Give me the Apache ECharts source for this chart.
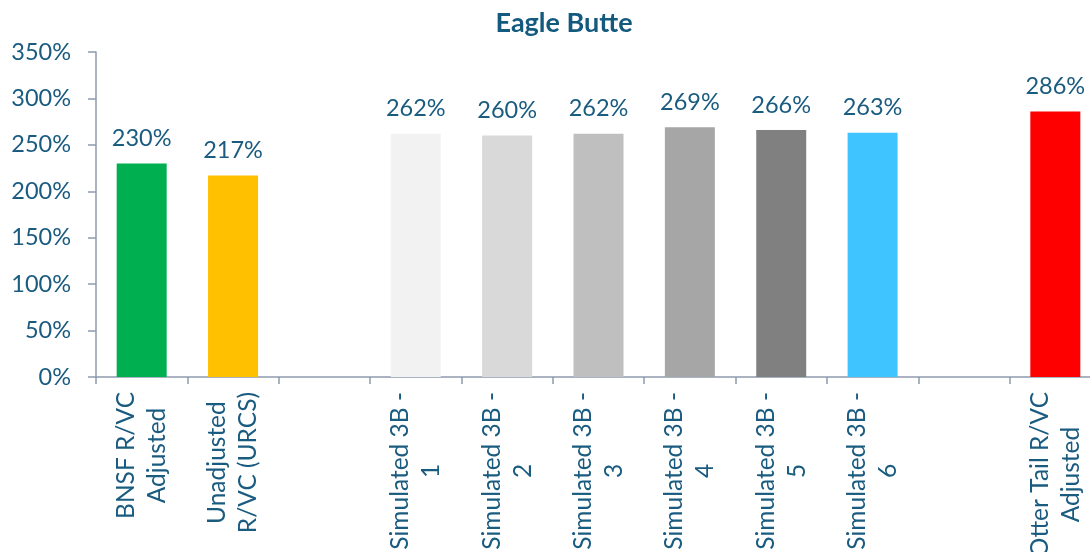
<!DOCTYPE html>
<html>
<head>
<meta charset="utf-8">
<script src="https://cdn.jsdelivr.net/npm/echarts@6/dist/echarts.min.js"></script>
<style>
html,body{margin:0;padding:0;background:#fff;}
#chart{width:1090px;height:552px;}
</style>
</head>
<body>
<div id="chart"></div>
<script>
var titleText = 'Eagle Butte';
var categories = [
  'BNSF R/VC\nAdjusted',
  'Unadjusted\nR/VC (URCS)',
  '',
  'Simulated 3B -\n1',
  'Simulated 3B -\n2',
  'Simulated 3B -\n3',
  'Simulated 3B -\n4',
  'Simulated 3B -\n5',
  'Simulated 3B -\n6',
  '',
  'Otter Tail R/VC\nAdjusted'
];
var values = [230, 217, null, 262, 260, 262, 269, 266, 263, null, 286];
var barColors = ['#00B050', '#FFC000', '#FFFFFF', '#F2F2F2', '#D9D9D9', '#BFBFBF', '#A6A6A6', '#808080', '#40C4FF', '#FFFFFF', '#FF0000'];
var yTicks = { min: 0, max: 350, interval: 50 };

var textColor = '#1A5B80';
var axisColor = '#8E9BAD';
var fontFamily = 'Lato';

var chart = echarts.init(document.getElementById('chart'), null, { renderer: 'canvas' });
chart.setOption({
  animation: false,
  title: {
    text: titleText,
    left: 559,
    textAlign: 'center',
    top: 5,
    textStyle: { color: '#135A7E', fontFamily: fontFamily, fontWeight: 'bold', fontSize: 27 }
  },
  grid: { left: 96, top: 52, height: 325, width: 1005, outerBoundsMode: 'none', containLabel: false },
  xAxis: {
    type: 'category',
    data: categories,
    axisLine: { show: true, lineStyle: { color: axisColor, width: 1.5 } },
    axisTick: { show: true, length: 7, alignWithLabel: false, lineStyle: { color: axisColor, width: 1.5 } },
    axisLabel: {
      interval: 0,
      rotate: 90,
      margin: 15,
      color: textColor,
      fontFamily: fontFamily,
      fontSize: 24.5,
      lineHeight: 31,
      hideOverlap: false,
      formatter: function (v) {
        if (!v) return '';
        return v.split('\n').map(function (l) { return '{c|' + l + '}'; }).join('\n');
      },
      rich: {
        c: { align: 'center', color: textColor, fontFamily: fontFamily, fontSize: 24.5, lineHeight: 31 }
      }
    },
    splitLine: { show: false }
  },
  yAxis: {
    type: 'value',
    min: yTicks.min,
    max: yTicks.max,
    interval: yTicks.interval,
    axisLine: { show: true, lineStyle: { color: axisColor, width: 1.5 } },
    axisTick: { show: true, length: 8, lineStyle: { color: axisColor, width: 1.5 } },
    axisLabel: {
      margin: 25,
      color: textColor,
      fontFamily: fontFamily,
      fontSize: 23.5,
      formatter: '{value}%'
    },
    splitLine: { show: false }
  },
  series: [{
    type: 'bar',
    barWidth: 50,
    data: values.map(function (v, i) {
      return { value: v, itemStyle: { color: barColors[i] } };
    }),
    label: {
      show: true,
      position: 'top',
      distance: 13,
      color: textColor,
      fontFamily: fontFamily,
      fontSize: 23.5,
      formatter: function (p) { return p.value == null ? '' : p.value + '%'; }
    }
  }]
});
</script>
</body>
</html>
